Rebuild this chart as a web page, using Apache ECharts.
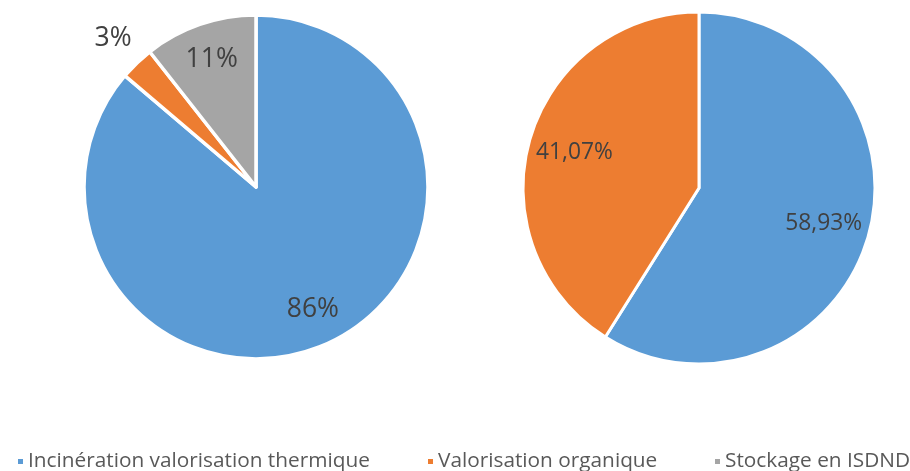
<!DOCTYPE html>
<html>
<head>
<meta charset="utf-8">
<script src="https://cdn.jsdelivr.net/npm/echarts@6/dist/echarts.min.js"></script>
<style>
html,body{margin:0;padding:0;background:#fff;}
#chart{width:910px;height:471px;}
</style>
</head>
<body>
<div id="chart"></div>
<script>
// Data
const categories = ['Incinération valorisation thermique', 'Valorisation organique', 'Stockage en ISDND'];
const leftValues = [86.2, 3.2, 10.6];
const rightCategories = ['Incinération valorisation thermique', 'Valorisation organique'];
const rightValues = [58.93, 41.07];
const colors = ['#5B9BD5', '#ED7D31', '#A5A5A5'];

const FONT = 'Open Sans';
const chart = echarts.init(document.getElementById('chart'));

function mkData(names, values) {
  return names.map((n, i) => ({ name: n, value: values[i] }));
}
const fmtInt = p => Math.round(p.value) + '%';
const fmtDec = p => p.value.toFixed(2).replace('.', ',') + '%';

const LC = [256, 187], LR = 172;
const RC = [699, 188], RR = 176;

const overlay = (center, r0, r1, names, values, fmt, fs, showIdx) => ({
  type: 'pie', center: center, radius: [r0, r1], startAngle: 90, clockwise: true,
  silent: true, animation: false, legendHoverLink: false,
  itemStyle: { color: 'rgba(0,0,0,0)', borderWidth: 0 },
  label: { show: true, position: 'inside', formatter: fmt, color: '#404040',
           fontFamily: FONT, fontSize: fs },
  labelLine: { show: false },
  data: mkData(names, values).map((d, i) => showIdx.includes(i) ? d :
        Object.assign(d, { label: { show: false } }))
});

chart.setOption({
  color: colors,
  animation: false,
  legend: [0, 1, 2].map((i) => ({
    data: [categories[i]],
    left: [11, 421, 708][i],
    top: 446,
    icon: 'rect',
    itemWidth: 7, itemHeight: 7, itemGap: 6,
    textStyle: { fontFamily: FONT, fontSize: 20.8, color: '#595959', padding: [0, 0, 0, -1] },
    selectedMode: false
  })),
  series: [
    {
      type: 'pie', center: LC, radius: LR, startAngle: 90, clockwise: true,
      animation: false,
      itemStyle: { borderColor: '#fff', borderWidth: 3.5 },
      label: { show: false }, labelLine: { show: false },
      data: mkData(categories, leftValues)
    },
    {
      type: 'pie', center: RC, radius: RR, startAngle: 90, clockwise: true,
      animation: false,
      itemStyle: { borderColor: '#fff', borderWidth: 3 },
      label: { show: false }, labelLine: { show: false },
      data: mkData(rightCategories, rightValues)
    },
    overlay(LC, LR * 0.54, LR, categories, leftValues, fmtInt, 26.5, [0, 2]),
    overlay(LC, LR * 1.08, LR * 1.28, categories, leftValues, fmtInt, 26.5, [1]),
    overlay(RC, RR * 0.44, RR, rightCategories, rightValues, fmtDec, 22.8, [0, 1])
  ]
});
</script>
</body>
</html>
